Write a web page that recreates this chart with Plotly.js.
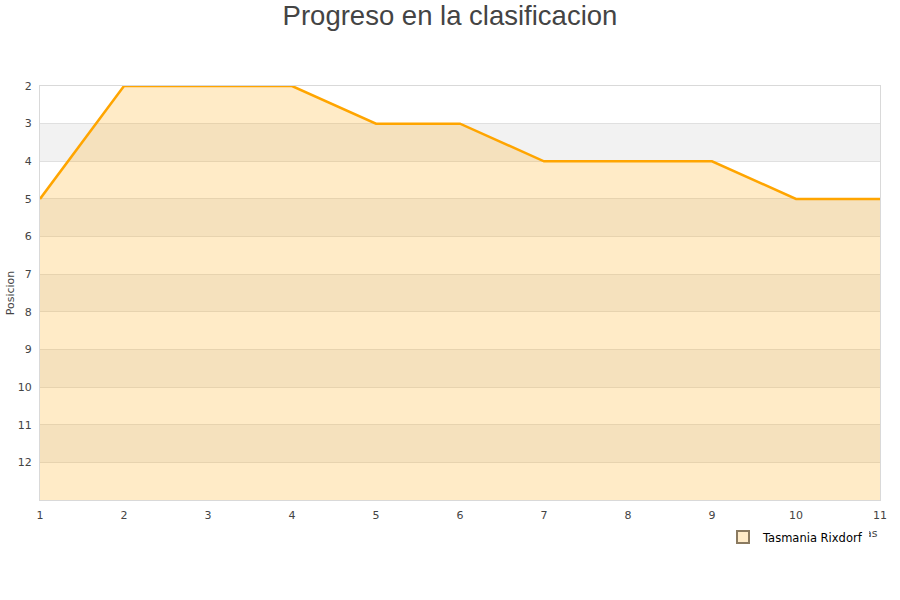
<!DOCTYPE html>
<html>
<head>
<meta charset="utf-8">
<script src="https://cdn.plot.ly/plotly-3.0.1.min.js"></script>
<style>html,body{margin:0;padding:0;background:#fff;}#chart{width:900px;height:600px;}</style>
</head>
<body>
<div id="chart"></div>
<script>
const jornadas = [1, 2, 3, 4, 5, 6, 7, 8, 9, 10, 11];
const posiciones = [5, 2, 2, 2, 3, 3, 4, 4, 4, 5, 5];
const teamName = "Tasmania Rixdorf";
const yTicks = [2, 3, 4, 5, 6, 7, 8, 9, 10, 11, 12];
const yMin = 2, yMax = 13;

const bands = [];
for (let v = yMin; v < yMax; v++) {
  if (v % 2 === 1) {
    bands.push({type: 'rect', xref: 'paper', yref: 'y', x0: 0, x1: 1, y0: v, y1: v + 1,
      fillcolor: '#f2f2f2', line: {width: 0}, layer: 'below'});
  }
}

const baseline = {
  x: jornadas, y: jornadas.map(() => yMax), mode: 'lines',
  line: {width: 0, color: 'rgba(0,0,0,0)'}, showlegend: false, hoverinfo: 'skip'
};
const main = {
  x: jornadas, y: posiciones, mode: 'lines', fill: 'tonexty',
  fillcolor: 'rgba(255,165,0,0.22)',
  line: {color: '#FFA500', width: 2.5}, showlegend: false, name: teamName
};
const legendItem = {
  x: [null], y: [null], mode: 'markers', name: teamName,
  marker: {symbol: 'square', size: 7, color: '#FFEBC8', line: {color: '#8a7a60', width: 1}}
};

const layout = {
  width: 900, height: 600,
  margin: {l: 40, r: 20, t: 86, b: 100},
  paper_bgcolor: '#fff', plot_bgcolor: '#fff',
  font: {family: 'DejaVu Sans', size: 11, color: '#444'},
  title: {text: 'Progreso en la clasificacion', font: {family: 'Liberation Sans, Arial', size: 27.5, color: '#444'},
    x: 0.5, xanchor: 'center', y: 0.975, yanchor: 'middle'},
  xaxis: {range: [1, 11], tickvals: jornadas, showgrid: false, zeroline: false,
    showline: true, linecolor: '#d9d9d9', linewidth: 1, mirror: true,
    ticks: 'outside', ticklen: 5, tickcolor: 'rgba(0,0,0,0)', tickfont: {size: 11, color: '#444'}},
  yaxis: {range: [yMax, yMin], tickvals: yTicks, showgrid: true, gridcolor: '#e0e0e0', zeroline: false,
    showline: true, linecolor: '#d9d9d9', linewidth: 1, mirror: true,
    ticks: 'outside', ticklen: 5, tickcolor: 'rgba(0,0,0,0)', tickfont: {size: 11, color: '#444'},
    title: {text: 'Posicion', font: {size: 11, color: '#444'}, standoff: 0}},
  shapes: bands,
  annotations: [{text: 'Jornadas', xref: 'paper', yref: 'paper', x: 1, y: -0.08, xanchor: 'right', yanchor: 'middle',
    showarrow: false, font: {size: 11, color: '#444'}}],
  showlegend: true,
  legend: {x: (723 - 40) / 840, xanchor: 'left', y: -(537 - 500) / 414, yanchor: 'middle',
    bgcolor: '#ffffff', font: {size: 11.5, color: '#000'}, itemsizing: 'constant'}
};

Plotly.newPlot('chart', [baseline, main, legendItem], layout, {displayModeBar: false, staticPlot: true}).then(() => {
  // the legend box sits over the axis title, as in the reference
  const ann = document.querySelector('#chart .annotation');
  const leg = document.querySelector('#chart .legend');
  if (ann && leg) leg.parentNode.insertBefore(ann, leg);
});
</script>
</body>
</html>
